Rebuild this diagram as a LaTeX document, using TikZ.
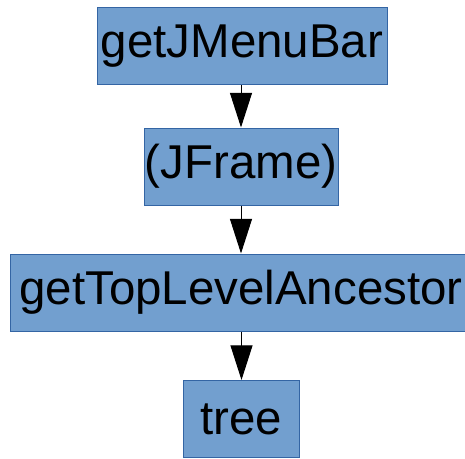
\documentclass[tikz,border=0pt]{standalone}
\usepackage{fontspec}
\setmainfont{Liberation Sans}
\usetikzlibrary{arrows.meta}
\definecolor{boxfill}{HTML}{729FCF}
\definecolor{boxline}{HTML}{3465A4}
\tikzset{
  callbox/.style={rectangle, draw=boxline, line width=0.75pt, fill=boxfill,
    minimum height=57.75pt, inner sep=0pt, text=black,
    font=\fontsize{35.6}{40}\selectfont},
  flow/.style={draw=black, line width=0.75pt,
    -{Triangle[length=26pt, width=16.5pt]}}
}
\begin{document}
\begin{tikzpicture}[x=0.75pt, y=-0.75pt]
  \useasboundingbox (0,0) rectangle (465,458);
  \clip (0,0) rectangle (465,458);
  \node[callbox, minimum width=217.5pt] (menubar) at (242,46) {getJMenuBar};
  \node[callbox, minimum width=145.5pt] (frame) at (241,166.5) {(JFrame)};
  \node[callbox, minimum width=346.5pt] (ancestor) at (241,292.5) {getTopLevelAncestor};
  \node[callbox, minimum width=87pt] (tree) at (241.5,419) {tree};
  \draw[flow] (menubar.south -| frame.north) -- (frame.north);
  \draw[flow] (frame.south) -- (ancestor.north -| frame.south);
  \draw[flow] (ancestor.south -| tree.north) -- (tree.north);
\end{tikzpicture}
\end{document}
